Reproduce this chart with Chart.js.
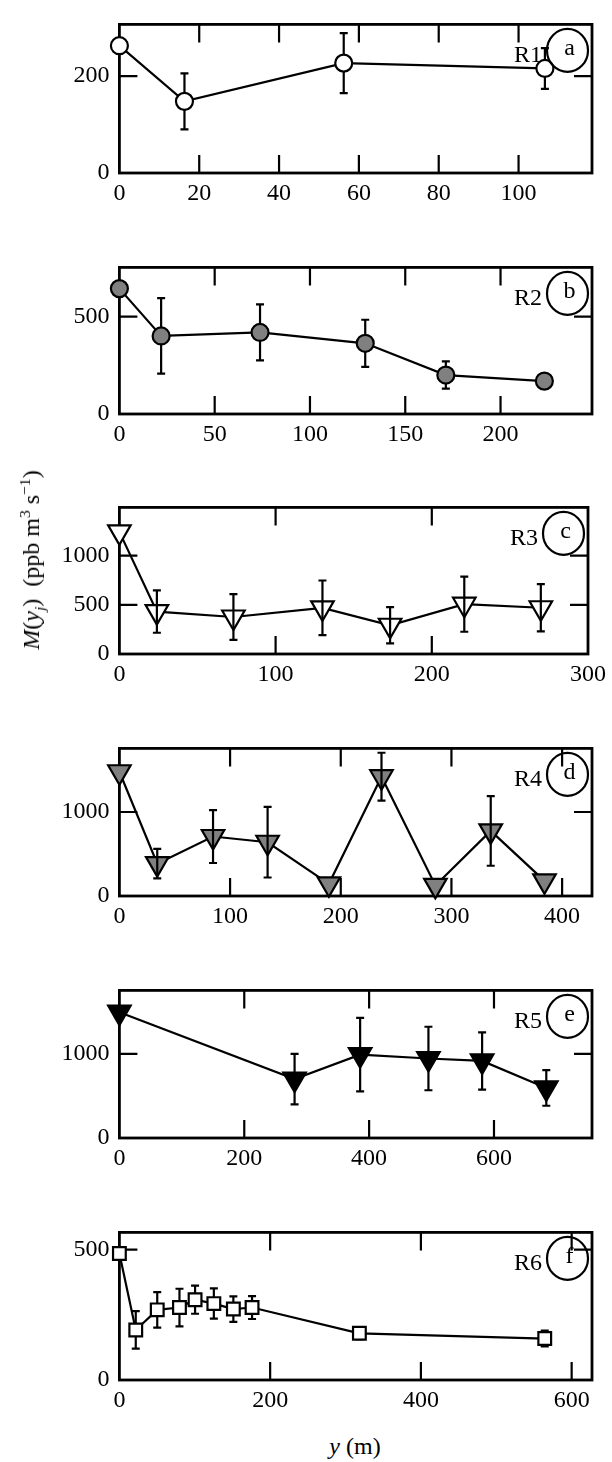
<!DOCTYPE html>
<html>
<head>
<meta charset="utf-8">
<script src="https://cdn.jsdelivr.net/npm/chart.js@4.4.0/dist/chart.umd.min.js"></script>
<style>
  body { margin: 0; background: #fff; }
  #wrap { position: relative; width: 612px; height: 1462px; }
  #wrap canvas { position: absolute; left: 0; }
  .ttl { position: absolute; font-family: 'Liberation Serif', serif; font-size: 24px; color: #000; white-space: nowrap; line-height: 1; }
  .ttl sub, .ttl sup { font-size: 65%; line-height: 0; }
  #ytitle { left: 31px; top: 560px; transform: translate(-50%, -50%) rotate(-90deg); }
  #xtitle { left: 355px; top: 1446px; transform: translate(-50%, -50%); }
</style>
</head>
<body>
<div id="wrap">
  <canvas id="cA" width="612"></canvas>
  <canvas id="cB" width="612"></canvas>
  <canvas id="cC" width="612"></canvas>
  <canvas id="cD" width="612"></canvas>
  <canvas id="cE" width="612"></canvas>
  <canvas id="cF" width="612"></canvas>
  <div class="ttl" id="ytitle"><i>M</i>(<i>y<sub>j</sub></i>)&nbsp;&nbsp;(ppb&nbsp;m<sup>3</sup>&nbsp;s<sup>&minus;1</sup>)</div>
  <div class="ttl" id="xtitle"><i>y</i> (m)</div>
</div>
<script>
// datos (y en m, M en ppb m3 s-1)
const xA = [0, 16.3, 56.2, 106.6];
const yA = [263, 148, 227, 216];
const eA = [0, 58, 62, 42];
const xTicksA = [0, 20, 40, 60, 80, 100];
const yTicksA = [0, 200];

const xB = [0, 21.9, 73.8, 129, 171.3, 223];
const yB = [644, 401, 419, 363, 200, 169];
const eB = [0, 194, 144, 121, 70, 0];
const xTicksB = [0, 50, 100, 150, 200];
const yTicksB = [0, 500];

const xC = [0, 24, 73, 130, 173.3, 220.8, 269.8];
const yC = [1241, 431, 376, 469, 292, 506, 470];
const eC = [0, 215, 233, 278, 185, 280, 240];
const xTicksC = [0, 100, 200, 300];
const yTicksC = [0, 500, 1000];

const xD = [0, 34.2, 84.6, 133.9, 189.3, 236.8, 285.5, 335.5, 384.1];
const yD = [1479, 385, 708, 640, 145, 1420, 126, 775, 180];
const eD = [0, 175, 315, 420, 0, 285, 0, 415, 0];
const xTicksD = [0, 100, 200, 300, 400];
const yTicksD = [0, 1000];

const xE = [0, 280.6, 385.6, 495, 581, 683.8];
const yE = [1494, 700, 990, 944, 915, 595];
const eE = [0, 300, 436, 377, 340, 212];
const xTicksE = [0, 200, 400, 600];
const yTicksE = [0, 1000];

const xF = [0, 21.7, 50.2, 79.7, 100.4, 125.3, 151.2, 176, 318.4, 564.3];
const yF = [485, 192, 269, 278, 308, 293, 272, 278, 179, 159];
const eF = [0, 72, 68, 72, 54, 58, 49, 44, 22, 30];
const xTicksF = [0, 200, 400, 600];
const yTicksF = [0, 500];

const serif = 'Liberation Serif';

// marco, marcas hacia dentro, barras de error y etiqueta del panel
function panelPlugin(err, barsOnTop, tag, letter) {
  function bars(chart) {
    const { ctx, scales: { y } } = chart;
    const ds = chart.data.datasets[0];
    const meta = chart.getDatasetMeta(0);
    ctx.save();
    ctx.strokeStyle = '#000';
    ctx.lineWidth = 2.2;
    ctx.beginPath();
    err.forEach((e, i) => {
      if (!e) return;
      const px = meta.data[i].x;
      const t = y.getPixelForValue(ds.data[i].y + e);
      const b = y.getPixelForValue(ds.data[i].y - e);
      ctx.moveTo(px, t); ctx.lineTo(px, b);
      ctx.moveTo(px - 4, t); ctx.lineTo(px + 4, t);
      ctx.moveTo(px - 4, b); ctx.lineTo(px + 4, b);
    });
    ctx.stroke();
    ctx.restore();
  }
  return {
    id: 'panel',
    beforeDatasetsDraw(chart) {
      const { ctx, chartArea: a, scales: { x, y } } = chart;
      ctx.save();
      ctx.strokeStyle = '#000';
      ctx.lineWidth = 2.8;
      ctx.strokeRect(a.left, a.top, a.right - a.left, a.bottom - a.top);
      ctx.lineWidth = 2.2;
      const L = 18;
      ctx.beginPath();
      x.ticks.forEach(t => {
        if (t.value <= x.min || t.value >= x.max) return;
        const px = x.getPixelForValue(t.value);
        ctx.moveTo(px, a.bottom); ctx.lineTo(px, a.bottom - L);
        ctx.moveTo(px, a.top); ctx.lineTo(px, a.top + L);
      });
      y.ticks.forEach(t => {
        if (t.value <= y.min || t.value >= y.max) return;
        const py = y.getPixelForValue(t.value);
        ctx.moveTo(a.left, py); ctx.lineTo(a.left + L, py);
        ctx.moveTo(a.right, py); ctx.lineTo(a.right - L, py);
      });
      ctx.stroke();
      ctx.restore();
      if (!barsOnTop) bars(chart);
    },
    afterDatasetsDraw(chart) {
      if (barsOnTop) bars(chart);
      const { ctx, chartArea: a } = chart;
      ctx.save();
      ctx.fillStyle = '#000';
      ctx.strokeStyle = '#000';
      ctx.lineWidth = 2.2;
      ctx.font = '24px ' + serif;
      ctx.textAlign = 'right';
      ctx.textBaseline = 'alphabetic';
      ctx.fillText(tag, a.right - 50, a.top + 38);
      const cx = a.right - 24.5, cy = a.top + 26;
      ctx.beginPath();
      ctx.ellipse(cx, cy, 20.5, 21.5, 0, 0, Math.PI * 2);
      ctx.stroke();
      ctx.textAlign = 'center';
      ctx.textBaseline = 'middle';
      ctx.fillText(letter, cx + 2, cy - 2);
      ctx.restore();
    }
  };
}

function makePanel(id, plotTop, plotH, xs, ys, err, xMax, xTicks, yMax, yTicks, style, fill, radius, rot, tag, letter, barsOnTop) {
  const cv = document.getElementById(id);
  cv.style.top = (plotTop - 10) + 'px';
  cv.height = Math.round(plotH + 60);
  const tickFont = { family: serif, size: 24 };
  return new Chart(cv, {
    type: 'scatter',
    data: {
      datasets: [{
        data: xs.map((x, i) => ({ x: x, y: ys[i] })),
        showLine: true,
        borderColor: '#000',
        borderWidth: 2.2,
        pointStyle: style,
        pointRadius: radius,
        pointRotation: rot,
        pointBackgroundColor: fill,
        pointBorderColor: '#000',
        pointBorderWidth: 2.2,
        clip: false
      }]
    },
    options: {
      responsive: false,
      animation: false,
      events: [],
      layout: { padding: { top: 10, right: 20, left: 0, bottom: 0 } },
      plugins: { legend: { display: false }, tooltip: { enabled: false } },
      scales: {
        x: {
          type: 'linear', min: 0, max: xMax,
          ticks: { padding: 6, color: '#000', font: tickFont, maxRotation: 0, autoSkip: false, callback: v => String(v) },
          grid: { display: false, drawTicks: false },
          border: { display: false },
          afterBuildTicks(s) { s.ticks = xTicks.map(v => ({ value: v })); },
          afterFit(s) { s.height = 50; }
        },
        y: {
          type: 'linear', min: 0, max: yMax,
          ticks: { padding: 10, color: '#000', font: tickFont, autoSkip: false, callback: v => String(v) },
          grid: { display: false, drawTicks: false },
          border: { display: false },
          afterBuildTicks(s) { s.ticks = yTicks.map(v => ({ value: v })); },
          afterFit(s) { s.width = 119.4; }
        }
      }
    },
    plugins: [panelPlugin(err, barsOnTop, tag, letter)]
  });
}

makePanel('cA', 10, 162.7, xA, yA, eA, 118.4, xTicksA, 307, yTicksA, 'circle', '#fff', 8.5, 0, 'R1', 'a', false);
makePanel('cB', 252.7, 160.6, xB, yB, eB, 248, xTicksB, 753, yTicksB, 'circle', '#808080', 8.5, 0, 'R2', 'b', false);
makePanel('cC', 493.3, 160.7, xC, yC, eC, 300, xTicksC, 1490, yTicksC, 'triangle', '#fff', 13, 180, 'R3', 'c', true);
makePanel('cD', 734.3, 162.4, xD, yD, eD, 427, xTicksD, 1757, yTicksD, 'triangle', '#808080', 13, 180, 'R4', 'd', true);
makePanel('cE', 976, 162.3, xE, yE, eE, 757, xTicksE, 1753, yTicksE, 'triangle', '#000', 13, 180, 'R5', 'e', true);
makePanel('cF', 1218.3, 162.4, xF, yF, eF, 627, xTicksF, 566, yTicksF, 'rect', '#fff', 9, 0, 'R6', 'f', false);
</script>
</body>
</html>
